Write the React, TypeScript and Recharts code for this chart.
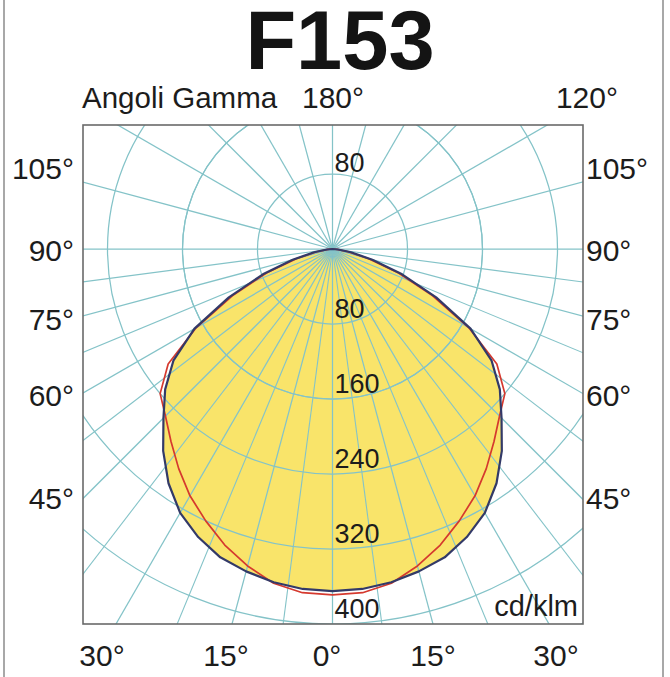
import React from 'react';
import { RadarChart, Radar, PolarGrid, PolarAngleAxis, PolarRadiusAxis } from 'recharts';

// ---- data (cd/klm), gamma angle step 5 deg ----
const gammaDeg = [0, 5, 10, 15, 20, 25, 30, 35, 40, 45, 50, 55, 60, 65, 70, 75, 80, 85, 90];
const planeC0 = [365, 364, 361, 356, 350, 339, 325, 305, 281, 255, 233, 207, 170, 122, 79, 44, 20, 6, 0];
const planeC90 = [369, 368, 362, 350, 336, 320, 304, 286, 268, 252, 240, 214, 168, 118, 75, 40, 17, 5, 0];
const radiusDomain = [0, 480];
const ringLabelsDown = [80, 160, 240, 320, 400];
const ringLabelsUp = [80];
const sideLabels = ['105°', '90°', '75°', '60°', '45°'];
const bottomLabels = ['30°', '15°', '0°', '15°', '30°'];
const topLabels = ['180°', '120°'];
const title = 'F153';
const axisTitle = 'Angoli Gamma';
const unitLabel = 'cd/klm';

// ---- layout ----
const BOX = { x: 83, y: 125, w: 500, h: 499 };
const CX = 249.5;
const CY = 124;
const OUTER = 450;
const STEP = 5;
const FONT = '"Liberation Sans", Arial, Helvetica, sans-serif';
const TEAL = '#84c3c8';
const YELLOW = '#f9e46a';
const NAVY = '#333a68';
const RED = '#d5392e';
const TXT = '#1c1c1c';

const sideBaselines = [179, 261, 330, 406, 509];
const bottomCenters = [102, 226, 327, 433, 556];

// angle "ang" in chart degrees measured from straight down (gamma 0), counter-clockwise
const data = Array.from({ length: 360 / STEP }, (_, i) => {
  const g = Math.min(i * STEP, 360 - i * STEP);
  const idx = gammaDeg.indexOf(g);
  return { ang: i * STEP, c0: idx >= 0 ? planeC0[idx] : 0, c90: idx >= 0 ? planeC90[idx] : 0 };
});

const fullAngles = Array.from({ length: 24 }, (_, i) => i * 15);
const extraAngles = [7.5, 22.5, 37.5, 52.5, 67.5, 82.5].flatMap((d) => [-90 + d, -90 - d]);
const innerRing = (160 / radiusDomain[1]) * OUTER;

const downTick = (p: any) => {
  const v = p?.payload?.value;
  if (!ringLabelsDown.includes(v)) return <g />;
  return (
    <g>
      <text x={p.x + 2} y={p.y - 6} fontSize={27} fontFamily={FONT} fill={TXT} textAnchor="start">
        {v}
      </text>
      {ringLabelsUp.includes(v) ? (
        <text x={p.x + 2} y={2 * CY - p.y - 2} fontSize={27} fontFamily={FONT} fill={TXT} textAnchor="start">
          {v}
        </text>
      ) : null}
    </g>
  );
};

export default function App() {
  return (
    <div style={{ position: 'absolute', left: 0, top: 0, width: 670, height: 677, background: '#fff', overflow: 'hidden' }}>
      <div style={{ position: 'absolute', left: BOX.x, top: BOX.y, width: BOX.w, height: BOX.h, overflow: 'hidden' }}>
        <RadarChart
          width={BOX.w}
          height={BOX.h}
          data={data}
          cx={CX}
          cy={CY}
          innerRadius={0}
          outerRadius={OUTER}
          startAngle={-90}
          endAngle={270}
          margin={{ top: 0, right: 0, bottom: 0, left: 0 }}
        >
          <PolarAngleAxis dataKey="ang" type="number" domain={[0, 360]} tick={false} axisLine={false} tickLine={false} />
          <Radar
            dataKey="c0"
            fill={YELLOW}
            fillOpacity={1}
            stroke="none"
            dot={false}
            isAnimationActive={false}
            zIndex={10}
          />
          <PolarGrid gridType="circle" polarAngles={fullAngles} stroke={TEAL} strokeWidth={1.25} zIndex={20} />
          <PolarGrid
            gridType="circle"
            polarAngles={extraAngles}
            polarRadius={[innerRing]}
            outerRadius={innerRing}
            stroke={TEAL}
            strokeWidth={1.1}
            zIndex={20}
          />
          <Radar
            dataKey="c90"
            fill="none"
            fillOpacity={0}
            stroke={RED}
            strokeWidth={1.7}
            strokeLinejoin="round"
            dot={false}
            isAnimationActive={false}
            zIndex={30}
          />
          <Radar
            dataKey="c0"
            fill="none"
            fillOpacity={0}
            stroke={NAVY}
            strokeWidth={2.2}
            strokeLinejoin="round"
            dot={false}
            isAnimationActive={false}
            zIndex={31}
          />
          <PolarRadiusAxis type="number" domain={radiusDomain} tickCount={7} angle={-90} axisLine={false} tick={downTick} />
        </RadarChart>
      </div>
      <svg width={670} height={677} style={{ position: 'absolute', left: 0, top: 0, pointerEvents: 'none' }}>
        <line x1={4} y1={0} x2={4} y2={677} stroke="#a8a8a8" strokeWidth={2} />
        <line x1={663} y1={0} x2={663} y2={677} stroke="#a8a8a8" strokeWidth={2} />
        <rect x={BOX.x} y={BOX.y} width={BOX.w} height={BOX.h} fill="none" stroke="#6a6a6a" strokeWidth={1.6} />
        <text x={340} y={69} textAnchor="middle" fontFamily={FONT} fontWeight="bold" fontSize={83} letterSpacing={0} fill="#141414">
          {title}
        </text>
        <text x={82} y={108} fontFamily={FONT} fontSize={29.5} fill={TXT}>{axisTitle}</text>
        <text x={302} y={108} fontFamily={FONT} fontSize={30} fill={TXT}>{topLabels[0]}</text>
        <text x={618} y={108} textAnchor="end" fontFamily={FONT} fontSize={30} fill={TXT}>{topLabels[1]}</text>
        {sideLabels.map((s, i) => (
          <text key={'l' + i} x={74} y={sideBaselines[i]} textAnchor="end" fontFamily={FONT} fontSize={30} fill={TXT}>{s}</text>
        ))}
        {sideLabels.map((s, i) => (
          <text key={'r' + i} x={586} y={sideBaselines[i]} textAnchor="start" fontFamily={FONT} fontSize={30} fill={TXT}>{s}</text>
        ))}
        {bottomLabels.map((s, i) => (
          <text key={'b' + i} x={bottomCenters[i]} y={666} textAnchor="middle" fontFamily={FONT} fontSize={30} fill={TXT}>{s}</text>
        ))}
        <text x={578} y={616} textAnchor="end" fontFamily={FONT} fontSize={29} fill={TXT}>{unitLabel}</text>
      </svg>
    </div>
  );
}
